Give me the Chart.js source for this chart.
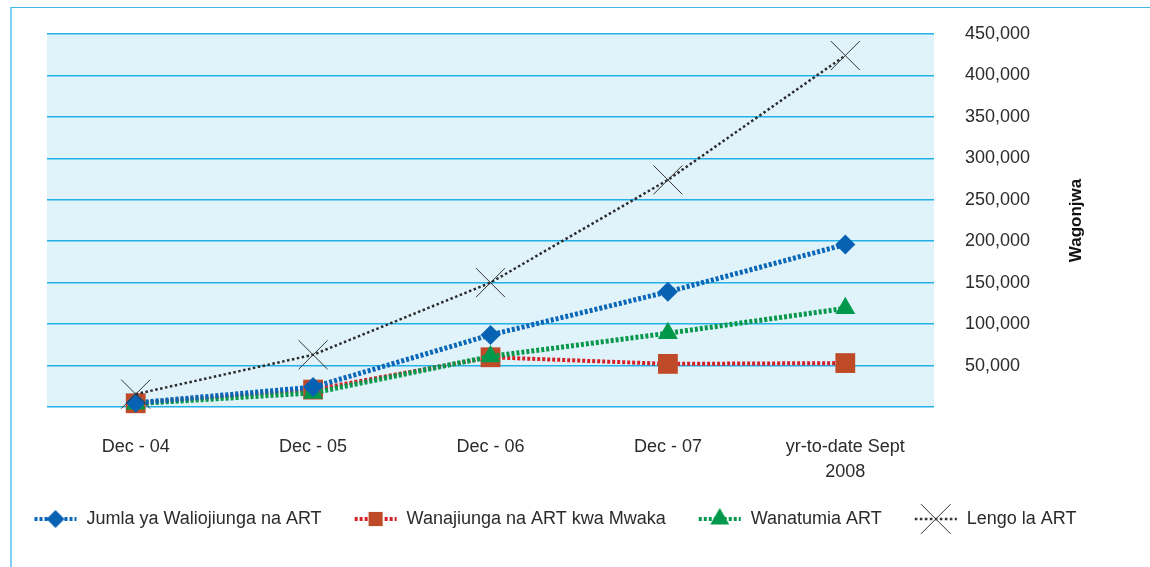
<!DOCTYPE html>
<html>
<head>
<meta charset="utf-8">
<title>Wagonjwa wa ART</title>
<script src="https://cdn.jsdelivr.net/npm/chart.js@4.4.0/dist/chart.umd.min.js"></script>
<style>
  html, body { margin: 0; padding: 0; background: #fff; }
  #wrap { position: relative; width: 1150px; height: 567px; overflow: hidden; }
  /* thin cyan frame round the figure (top and left edges show) */
  #frame {
    position: absolute; left: 10px; top: 7px; right: -10px; bottom: -10px;
    border-top: 1.5px solid #3db7ea; border-left: 2px solid #7fd0f2;
  }
  #artChart { position: absolute; left: 0; top: 0; }
</style>
</head>
<body>
<div id="wrap">
  <div id="frame"></div>
  <canvas id="artChart" width="1150" height="567"></canvas>
</div>
<script>
// ---- data ----
const categories = ["Dec - 04", "Dec - 05", "Dec - 06", "Dec - 07", ["yr-to-date Sept", "2008"]];

const jumlaWaliojiunga = [5000, 24000, 87000, 139000, 196000];
const wanajiungaKwaMwaka = [4500, 21000, 60000, 52000, 53000];
const wanatumiaArt = [4000, 17000, 61000, 89000, 119000];
const lengoArt = [15500, 63000, 150000, 274000, 424000];

const seriesNames = [
  "Jumla ya Waliojiunga na ART",
  "Wanajiunga na ART kwa Mwaka",
  "Wanatumia ART",
  "Lengo la ART"
];

const yAxisTitle = "Wagonjwa";
const yMin = 0;
const yMax = 450000;
const yStep = 50000;

// ---- styles ----
const styles = [
  { line: "#0a66b7", marker: "#0762b4", point: "rectRot", radius: 10, legendRadius: 9, width: 5, dash: [3, 2], order: 1 },
  { line: "#d42027", marker: "#bf4a27", point: "rect", radius: 14, legendRadius: 10, width: 4, dash: [3, 2], order: 3 },
  { line: "#06984a", marker: "#00994c", point: "triangle", radius: 11.5, legendRadius: 11, width: 5, dash: [3, 2], order: 2 },
  { line: "#2b2b2b", marker: "#333333", point: "crossRot", radius: 20.5, legendRadius: 21, width: 2.5, dash: [2.5, 2.5], order: 0 }
];

const seriesData = [jumlaWaliojiunga, wanajiungaKwaMwaka, wanatumiaArt, lengoArt];

Chart.defaults.font.family = "'Liberation Sans', Arial, Helvetica, sans-serif";
Chart.defaults.font.size = 18;
Chart.defaults.color = "#2b2b2b";

const symbolWidth = 44;

// small canvas for each legend entry: dotted line with the marker on it
function legendSymbol(s) {
  const c = document.createElement("canvas");
  c.width = symbolWidth;
  c.height = 34;
  const g = c.getContext("2d");
  g.strokeStyle = s.line;
  g.lineWidth = s.width > 3 ? 4 : s.width;
  g.setLineDash(s.dash);
  g.beginPath();
  g.moveTo(1, 17);
  g.lineTo(symbolWidth - 1, 17);
  g.stroke();
  g.setLineDash([]);
  g.fillStyle = s.marker;
  g.strokeStyle = s.marker;
  g.lineWidth = 1;
  Chart.helpers.drawPoint(g, {
    pointStyle: s.point,
    radius: s.legendRadius,
    rotation: 0,
    borderWidth: s.point === "crossRot" ? 1 : 0
  }, symbolWidth / 2, 17);
  return c;
}
const symbols = styles.map(legendSymbol);

// light cyan fill behind the plot
const plotBackground = {
  id: "plotBackground",
  beforeDraw(chart) {
    const { ctx, chartArea: a } = chart;
    ctx.save();
    ctx.fillStyle = "#e0f3fb";
    ctx.fillRect(a.left, a.top, a.right - a.left, a.bottom - a.top);
    ctx.restore();
  }
};

// axis title reads bottom-to-top on the right side
const rightAxisTitle = {
  id: "rightAxisTitle",
  afterDraw(chart) {
    const { ctx, chartArea: a } = chart;
    const ys = chart.scales.y;
    ctx.save();
    ctx.translate(ys.right - 34, (a.top + a.bottom) / 2);
    ctx.rotate(-Math.PI / 2);
    ctx.font = "bold 17px 'Liberation Sans', Arial, sans-serif";
    ctx.fillStyle = "#111";
    ctx.textAlign = "center";
    ctx.textBaseline = "middle";
    ctx.fillText(yAxisTitle, 0, 0);
    ctx.restore();
  }
};

const datasets = seriesData.map((data, i) => {
  const s = styles[i];
  return {
    label: seriesNames[i],
    data: data,
    yAxisID: "y",
    borderColor: s.line,
    borderWidth: s.width,
    borderDash: s.dash,
    borderCapStyle: "butt",
    tension: 0,
    fill: false,
    pointStyle: s.point,
    pointRadius: s.radius,
    pointHoverRadius: s.radius,
    pointBackgroundColor: s.marker,
    pointBorderColor: s.marker,
    pointBorderWidth: s.point === "crossRot" ? 1 : 0,
    order: s.order,
    clip: false
  };
});

new Chart(document.getElementById("artChart"), {
  type: "line",
  data: { labels: categories, datasets: datasets },
  plugins: [plotBackground, rightAxisTitle],
  options: {
    responsive: false,
    animation: false,
    events: [],
    layout: { padding: { left: 0, top: 34, right: 40, bottom: 29 } },
    plugins: {
      tooltip: { enabled: false },
      legend: {
        position: "bottom",
        labels: {
          usePointStyle: true,
          pointStyleWidth: symbolWidth,
          padding: 32,
          color: "#2b2b2b",
          font: { size: 18 },
          generateLabels: (chart) => chart.data.datasets.map((ds, i) => ({
            text: ds.label,
            pointStyle: symbols[i],
            datasetIndex: i,
            hidden: false,
            lineWidth: 0,
            fillStyle: "transparent",
            strokeStyle: "transparent",
            fontColor: "#2b2b2b"
          }))
        }
      }
    },
    scales: {
      x: {
        offset: true,
        grid: { display: false },
        border: { display: false },
        ticks: {
          padding: 19,
          maxRotation: 0,
          autoSkip: false,
          font: { size: 18, lineHeight: 1.4 }
        },
        afterFit: (scale) => { scale.height = 71; }
      },
      // empty left margin of the plot
      gutter: {
        type: "linear",
        position: "left",
        grid: { display: false },
        border: { display: false },
        ticks: { display: false },
        afterFit: (scale) => { scale.width = 47; }
      },
      y: {
        position: "right",
        min: yMin,
        max: yMax,
        // invisible tick marks push the labels away from the plot
        grid: { color: "#22b0e8", lineWidth: 1.5, drawTicks: true, tickLength: 31, tickColor: "rgba(0,0,0,0)" },
        border: { display: false },
        ticks: {
          stepSize: yStep,
          padding: 0,
          font: { size: 18 },
          callback: (v) => (v === 0 ? "" : v.toLocaleString("en-US"))
        },
        afterFit: (scale) => { scale.width = 176; }
      }
    }
  }
});
</script>
</body>
</html>
